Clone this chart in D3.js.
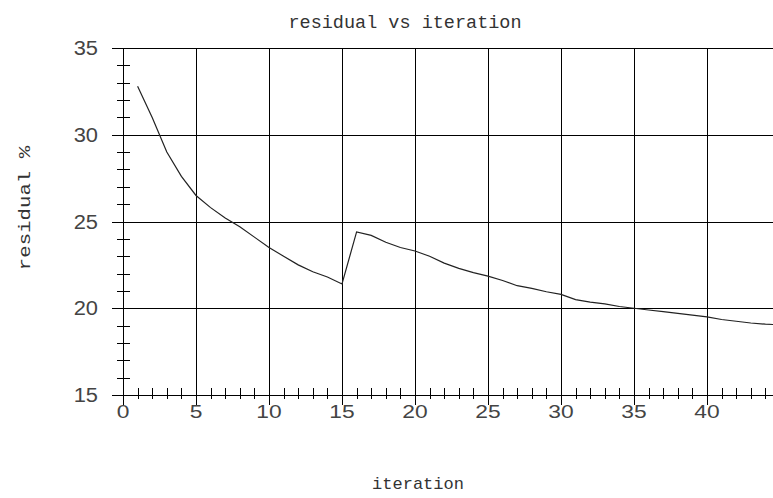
<!DOCTYPE html>
<html lang="en">
<head>
<meta charset="UTF-8">
<title>residual vs iteration</title>
<script src="https://d3js.org/d3.v7.min.js"></script>
<style>
  body { margin: 0; background: #fff; }
  svg { display: block; }
</style>
</head>
<body>
<svg id="chart" width="773" height="498"></svg>
<script>
// data
var iterations = [1,2,3,4,5,6,7,8,9,10,11,12,13,14,15,16,17,18,19,20,21,22,23,24,25,
                  26,27,28,29,30,31,32,33,34,35,36,37,38,39,40,41,42,43,44,45];
var residual = [32.8,31.0,29.0,27.6,26.5,25.8,25.2,24.7,24.1,23.5,23.0,22.5,22.1,21.8,21.4,
                24.4,24.2,23.8,23.5,23.3,23.0,22.6,22.3,22.05,21.85,21.6,21.3,21.15,20.95,20.8,
                20.5,20.35,20.25,20.1,20.0,19.9,19.8,19.7,19.6,19.5,19.35,19.25,19.15,19.08,19.05];
var xTicks = [0,5,10,15,20,25,30,35,40];
var yTicks = [15,20,25,30,35];

var svg = d3.select("#chart");
var W = 773;

var x = d3.scaleLinear().domain([0, 40]).range([123, 707]);
var y = d3.scaleLinear().domain([15, 35]).range([395, 48]);

var grid = svg.append("g").attr("stroke", "#000").attr("stroke-width", 1).attr("shape-rendering", "crispEdges");

// horizontal grid lines
grid.selectAll("line.h").data(yTicks).enter().append("line")
    .attr("x1", 112).attr("x2", W)
    .attr("y1", function (d) { return Math.round(y(d)) + 0.5; })
    .attr("y2", function (d) { return Math.round(y(d)) + 0.5; });

// vertical grid lines
grid.selectAll("line.v").data(xTicks).enter().append("line")
    .attr("y1", y(35)).attr("y2", 405)
    .attr("x1", function (d) { return Math.round(x(d)) + 0.5; })
    .attr("x2", function (d) { return Math.round(x(d)) + 0.5; });

// minor ticks
var xMinor = d3.range(1, 45).filter(function (d) { return d % 5 != 0; });
var yMinor = d3.range(16, 35).filter(function (d) { return d % 5 != 0; });

grid.selectAll("line.xm").data(xMinor).enter().append("line")
    .attr("y1", 388).attr("y2", 399)
    .attr("x1", function (d) { return Math.round(x(d)) + 0.5; })
    .attr("x2", function (d) { return Math.round(x(d)) + 0.5; });

grid.selectAll("line.ym").data(yMinor).enter().append("line")
    .attr("x1", 117).attr("x2", 130)
    .attr("y1", function (d) { return Math.round(y(d)) + 0.5; })
    .attr("y2", function (d) { return Math.round(y(d)) + 0.5; });

// tick labels (the picture's text is a little wider than the font)
svg.selectAll("text.xl").data(xTicks).enter().append("text")
    .attr("transform", function (d) { return "translate(" + x(d) + ",418) scale(1.2,1)"; })
    .attr("text-anchor", "middle")
    .attr("font-family", "Liberation Sans, Arial, sans-serif")
    .attr("font-size", 19)
    .attr("fill", "#444")
    .text(function (d) { return d; });

svg.selectAll("text.yl").data(yTicks).enter().append("text")
    .attr("transform", function (d) { return "translate(98," + (y(d) + 7) + ") scale(1.15,1.05)"; })
    .attr("text-anchor", "end")
    .attr("font-family", "Liberation Sans, Arial, sans-serif")
    .attr("font-size", 19)
    .attr("fill", "#444")
    .text(function (d) { return d; });

// the curve
var pts = iterations.map(function (d, i) { return [d, residual[i]]; });
var line = d3.line()
    .x(function (d) { return x(d[0]); })
    .y(function (d) { return y(d[1]); });

svg.append("path")
    .datum(pts)
    .attr("d", line)
    .attr("fill", "none")
    .attr("stroke", "#222")
    .attr("stroke-width", 1.2);

// titles
svg.append("text")
    .attr("x", 405).attr("y", 28)
    .attr("text-anchor", "middle")
    .attr("font-family", "Liberation Mono, Courier New, monospace")
    .attr("font-size", 18.5)
    .attr("fill", "#333")
    .text("residual vs iteration");

svg.append("text")
    .attr("x", 418).attr("y", 489)
    .attr("text-anchor", "middle")
    .attr("font-family", "Liberation Mono, Courier New, monospace")
    .attr("font-size", 17)
    .attr("fill", "#333")
    .text("iteration");

svg.append("text")
    .attr("transform", "translate(30,208) rotate(-90) scale(1.22,1)")
    .attr("text-anchor", "middle")
    .attr("font-family", "Liberation Mono, Courier New, monospace")
    .attr("font-size", 17)
    .attr("fill", "#333")
    .text("residual %");
</script>
</body>
</html>
